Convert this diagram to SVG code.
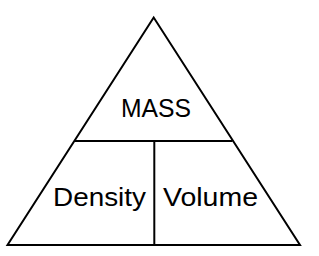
<svg xmlns="http://www.w3.org/2000/svg" width="319" height="256" viewBox="0 0 319 256">
<style>
.ln{stroke:#000;stroke-width:2;fill:none;stroke-linejoin:miter}
.t{font-family:"Liberation Sans",Arial,sans-serif;font-size:26px;fill:#000}
</style>
<rect width="319" height="256" fill="#fff"/>
<g id="connectors">
<polygon class="ln" points="153.7,17.5 7.5,245 300,245"/>
<line class="ln" x1="75" y1="141" x2="232.5" y2="141"/>
<line class="ln" x1="154.3" y1="141" x2="154.3" y2="245"/>
</g>
<g id="mass"><text class="t" x="121" y="116.5" textLength="70" lengthAdjust="spacingAndGlyphs">MASS</text></g>
<g id="density"><text class="t" x="53" y="206" textLength="93" lengthAdjust="spacingAndGlyphs">Density</text></g>
<g id="volume"><text class="t" x="163" y="206" textLength="95" lengthAdjust="spacingAndGlyphs">Volume</text></g>
</svg>
